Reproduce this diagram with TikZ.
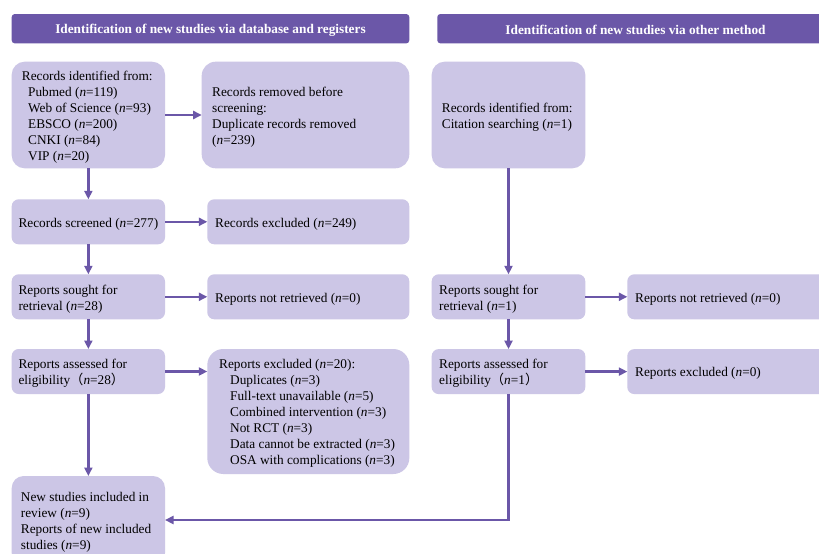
\documentclass[tikz,border=0pt]{standalone}
\usepackage{fontspec}
\setmainfont{Liberation Serif}
\newfontfamily\cjk{Noto Sans CJK SC}
\usetikzlibrary{arrows.meta}
\definecolor{boxfill}{RGB}{204,198,230}
\definecolor{hdrfill}{RGB}{107,87,168}
\definecolor{arrcol}{RGB}{107,87,168}
\newcommand{\nn}{\textit{n}}
\newcommand{\ind}[1]{\hspace*{#1}}
\begin{document}
\begin{tikzpicture}[x=1pt,y=-1pt,
  box/.style={fill=boxfill, inner sep=0pt, outer sep=0pt},
  hdr/.style={fill=hdrfill, inner sep=0pt, outer sep=0pt, rounded corners=3pt, minimum height=29.3pt},
  hdrtxt/.style={text=white, inner sep=0pt, font=\fontsize{13.3}{16}\selectfont\bfseries},
  txt/.style={anchor=west, align=left, inner sep=0pt, yshift=-2pt, font=\fontsize{13.3}{16}\selectfont},
  arr/.style={draw=arrcol, line width=2.6pt, -{Triangle[length=8.5pt,width=8pt]}}]
\useasboundingbox (0,0) rectangle (819,554);
\clip (0,0) rectangle (819,554);
\fill[white] (0,0) rectangle (819,554);

% headers
\node[hdr, minimum width=397.6pt] (h1) at (210.5,28.7) {};
\node[hdrtxt] (h1t) at ([yshift=-1.5pt]h1.center) {Identification of new studies via database and registers};
\node[hdr, minimum width=396.4pt] (h2) at (635.5,28.7) {};
\node[hdrtxt] (h2t) at ([yshift=-1.5pt]h2.center) {Identification of new studies via other method};

% left column
\node[box, rounded corners=13pt, minimum width=153.3pt, minimum height=106.6pt] (id1) at (88.35,115) {};
\node[txt] (id1t) at ([xshift=10pt]id1.west) {Records identified from:\\\ind{6.3pt}Pubmed (\nn=119)\\\ind{6.3pt}Web of Science (\nn=93)\\\ind{6.3pt}EBSCO (\nn=200)\\\ind{6.3pt}CNKI (\nn=84)\\\ind{6.3pt}VIP (\nn=20)};

\node[box, rounded corners=14pt, minimum width=207.6pt, minimum height=106.6pt] (rem) at (305.5,115) {};
\node[txt] (remt) at ([xshift=10.3pt]rem.west) {Records removed before\\screening:\\Duplicate records removed\\(\nn=239)};

\node[box, rounded corners=7pt, minimum width=153.3pt, minimum height=45pt] (scr) at (88.35,221.8) {};
\node[txt] (scrt) at ([xshift=6.6pt]scr.west) {Records screened (\nn=277)};

\node[box, rounded corners=7pt, minimum width=202pt, minimum height=45pt] (exc) at (308.3,221.8) {};
\node[txt] (exct) at ([xshift=7.7pt]exc.west) {Records excluded (\nn=249)};

\node[box, rounded corners=7pt, minimum width=153.3pt, minimum height=45pt] (sought) at (88.35,296.8) {};
\node[txt] (soughtt) at ([xshift=6.6pt]sought.west) {Reports sought for\\retrieval (\nn=28)};

\node[box, rounded corners=7pt, minimum width=202pt, minimum height=45pt] (notret) at (308.3,296.8) {};
\node[txt] (notrett) at ([xshift=7.7pt]notret.west) {Reports not retrieved (\nn=0)};

\node[box, rounded corners=7pt, minimum width=153.3pt, minimum height=45pt] (assess) at (88.35,371.5) {};
\node[txt] (assesst) at ([xshift=6.6pt]assess.west) {Reports assessed for\\eligibility{\cjk （}\nn=28{\cjk ）}};

\node[box, rounded corners=16pt, minimum width=202pt, minimum height=125pt] (excl) at (308.3,411.5) {};
\node[txt] (exclt) at ([xshift=11.7pt]excl.west) {Reports excluded (\nn=20):\\\ind{11pt}Duplicates (\nn=3)\\\ind{11pt}Full-text unavailable (\nn=5)\\\ind{11pt}Combined intervention (\nn=3)\\\ind{11pt}Not RCT (\nn=3)\\\ind{11pt}Data cannot be extracted (\nn=3)\\\ind{11pt}OSA with complications (\nn=3)};

\node[box, rounded corners=12pt, minimum width=153.3pt, minimum height=89pt] (new) at (88.35,520.5) {};
\node[txt] (newt) at ([xshift=9pt]new.west) {New studies included in\\review (\nn=9)\\Reports of new included\\studies (\nn=9)};

% right column
\node[box, rounded corners=13pt, minimum width=153.6pt, minimum height=106.6pt] (rid) at (508.5,115) {};
\node[txt] (ridt) at ([xshift=10pt]rid.west) {Records identified from:\\Citation searching (\nn=1)};

\node[box, rounded corners=7pt, minimum width=153.6pt, minimum height=45pt] (rsought) at (508.5,296.8) {};
\node[txt] (rsoughtt) at ([xshift=7.3pt]rsought.west) {Reports sought for\\retrieval (\nn=1)};

\node[box, rounded corners=7pt, minimum width=202pt, minimum height=45pt] (rnotret) at (728.3,296.8) {};
\node[txt] (rnotrett) at ([xshift=7.7pt]rnotret.west) {Reports not retrieved (\nn=0)};

\node[box, rounded corners=7pt, minimum width=153.6pt, minimum height=45pt] (rassess) at (508.5,371.6) {};
\node[txt] (rassesst) at ([xshift=7.3pt]rassess.west) {Reports assessed for\\eligibility{\cjk （}\nn=1{\cjk ）}};

\node[box, rounded corners=7pt, minimum width=202pt, minimum height=45pt] (rexcl) at (728.3,371.6) {};
\node[txt] (rexclt) at ([xshift=7.7pt]rexcl.west) {Reports excluded (\nn=0)};

% connectors
\draw[arr] (id1.south) -- (scr.north);
\draw[arr] (scr.south) -- (sought.north);
\draw[arr] (sought.south) -- (assess.north);
\draw[arr] (assess.south) -- (new.north);
\draw[arr] (id1.east) -- (rem.west);
\draw[arr] (scr.east) -- (exc.west);
\draw[arr] (sought.east) -- (notret.west);
\draw[arr] (assess.east) -- (assess.east -| excl.west);

\draw[arr] (rid.south) -- (rsought.north);
\draw[arr] (rsought.south) -- (rassess.north);
\draw[arr] (rsought.east) -- (rnotret.west);
\draw[arr] (rassess.east) -- (rexcl.west);
\coordinate (turn) at (508.5,520);
\draw[arr] (rassess.south) -- (turn) -- (turn -| new.east);
\end{tikzpicture}
\end{document}
